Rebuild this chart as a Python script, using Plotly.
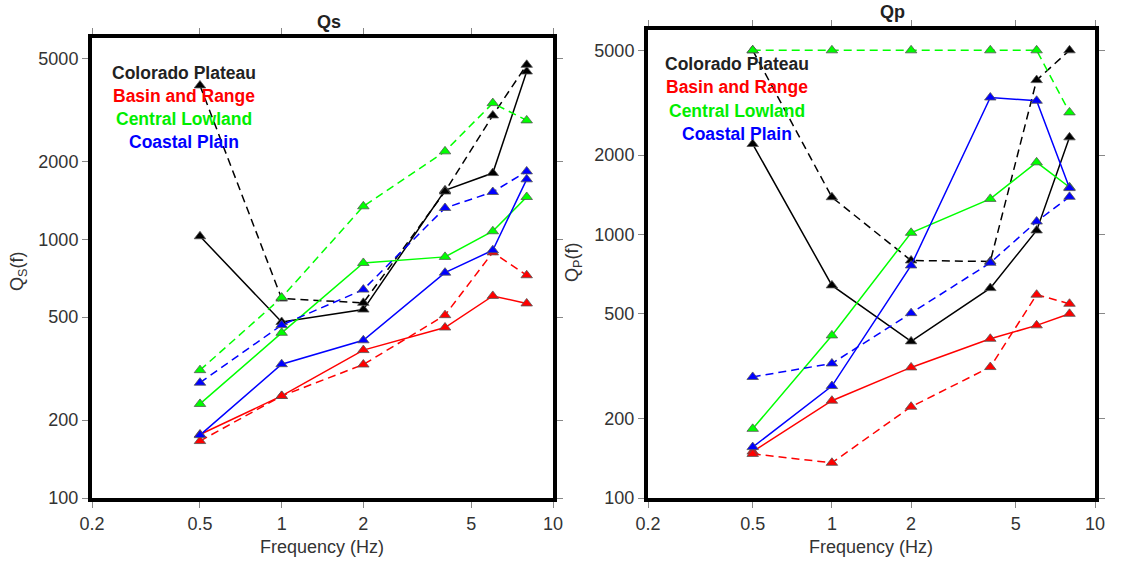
import plotly.graph_objects as go

freq = [0.5, 1, 2, 4, 6, 8]
regions = ["Colorado Plateau", "Basin and Range", "Central Lowland", "Coastal Plain"]
colors = {"Colorado Plateau": "#000000", "Basin and Range": "#ff0000",
          "Central Lowland": "#00ff00", "Coastal Plain": "#0000ff"}
text_colors = {"Colorado Plateau": "#222222", "Basin and Range": "#ff0000",
               "Central Lowland": "#00ee00", "Coastal Plain": "#0000ff"}

# Qs (left panel) - solid and dashed series per region
qs_solid = {
    "Colorado Plateau": [1027, 479, 535, 1546, 1803, 4452],
    "Basin and Range": [176, 248, 373, 456, 604, 565],
    "Central Lowland": [231, 435, 810, 855, 1074, 1457],
    "Coastal Plain": [175, 329, 407, 743, 907, 1705],
}
qs_dashed = {
    "Colorado Plateau": [3932, 590, 568, 1530, 3011, 4725],
    "Basin and Range": [166, 248, 328, 509, 890, 726],
    "Central Lowland": [312, 595, 1341, 2187, 3360, 2881],
    "Coastal Plain": [279, 466, 639, 1321, 1523, 1830],
}
# Qp (right panel)
qp_solid = {
    "Colorado Plateau": [2205, 641, 393, 626, 1036, 2337],
    "Basin and Range": [150, 234, 313, 402, 452, 500],
    "Central Lowland": [183, 414, 1015, 1365, 1879, 1511],
    "Coastal Plain": [156, 266, 763, 3311, 3218, 1500],
}
qp_dashed = {
    "Colorado Plateau": [5000, 1385, 797, 790, 3854, 5000],
    "Basin and Range": [147, 136, 222, 314, 591, 546],
    "Central Lowland": [5000, 5000, 5000, 5000, 5000, 2907],
    "Coastal Plain": [288, 324, 503, 781, 1120, 1390],
}

x_ticks = [0.2, 0.5, 1, 2, 5, 10]
x_ticktext = ["0.2", "0.5", "1", "2", "5", "10"]
y_ticks = [100, 200, 500, 1000, 2000, 5000]
y_ticktext = ["100", "200", "500", "1000", "2000", "5000"]

FONT = "Liberation Sans, Arial, Helvetica, sans-serif"

fig = go.Figure()

def add_panel(solid, dashed, xa, ya):
    for reg in regions:
        for vals, dash in ((solid[reg], "solid"), (dashed[reg], "8px,5px")):
            fig.add_trace(go.Scatter(
                x=freq, y=vals, xaxis=xa, yaxis=ya, mode="lines+markers",
                line=dict(color=colors[reg], width=1.5, dash=dash),
                marker=dict(symbol="triangle-up", size=10, color=colors[reg],
                            line=dict(color="#555555", width=0.8)),
                showlegend=False, hoverinfo="skip"))

add_panel(qs_solid, qs_dashed, "x", "y")
add_panel(qp_solid, qp_dashed, "x2", "y2")

W, H = 1139, 567
def px(x):
    return x / W
def py(y):
    return (H - y) / H

axis_common = dict(
    type="log", showgrid=False, zeroline=False, automargin=False,
    showline=True, linewidth=4, linecolor="black", mirror="allticks",
    ticks="outside", ticklen=6, tickwidth=1, tickcolor="#888888",
    tickfont=dict(family=FONT, size=18, color="#333333"),
)

xr = [-0.69897, 1.0]
yr = [2.0, 3.778]

fig.update_layout(
    width=W, height=H, margin=dict(l=0, r=0, t=0, b=0, autoexpand=False),
    plot_bgcolor="white", paper_bgcolor="white",
    xaxis=dict(domain=[px(92), px(553)], range=xr, tickvals=x_ticks, ticktext=x_ticktext,
               anchor="y", **axis_common),
    yaxis=dict(domain=[py(498), py(38)], range=yr, tickvals=y_ticks, ticktext=y_ticktext,
               anchor="x", **axis_common),
    xaxis2=dict(domain=[px(648), px(1095)], range=xr, tickvals=x_ticks, ticktext=x_ticktext,
                anchor="y2", **axis_common),
    yaxis2=dict(domain=[py(498), py(29.5)], range=yr, tickvals=y_ticks, ticktext=y_ticktext,
                anchor="x2", **axis_common),
)

ann = []
def label(text, x, y, size=18, color="#333333", angle=0):
    ann.append(dict(text=text, x=px(x), y=py(y), xref="paper", yref="paper",
                    xanchor="center", yanchor="middle", textangle=angle,
                    showarrow=False, font=dict(family=FONT, size=size, color=color)))

# Titles
label("<b>Qs</b>", 329, 22, 18, "#222222")
label("<b>Qp</b>", 892, 12, 18, "#222222")
# Axis titles
label("Frequency (Hz)", 322, 547)
label("Frequency (Hz)", 871, 547)
label("Q<sub>S</sub>(f)", 18, 272, angle=-90)
label("Q<sub>P</sub>(f)", 573, 263, angle=-90)
# Region labels
left_y = [72.7, 95.7, 119, 142.3]
right_y = [64, 87.3, 110.7, 134.3]
for reg, ly, ry in zip(regions, left_y, right_y):
    label("<b>%s</b>" % reg, 184, ly, 17.5, text_colors[reg])
    label("<b>%s</b>" % reg, 737, ry, 17.5, text_colors[reg])
fig.update_layout(annotations=ann)

fig.write_html("out.html")
